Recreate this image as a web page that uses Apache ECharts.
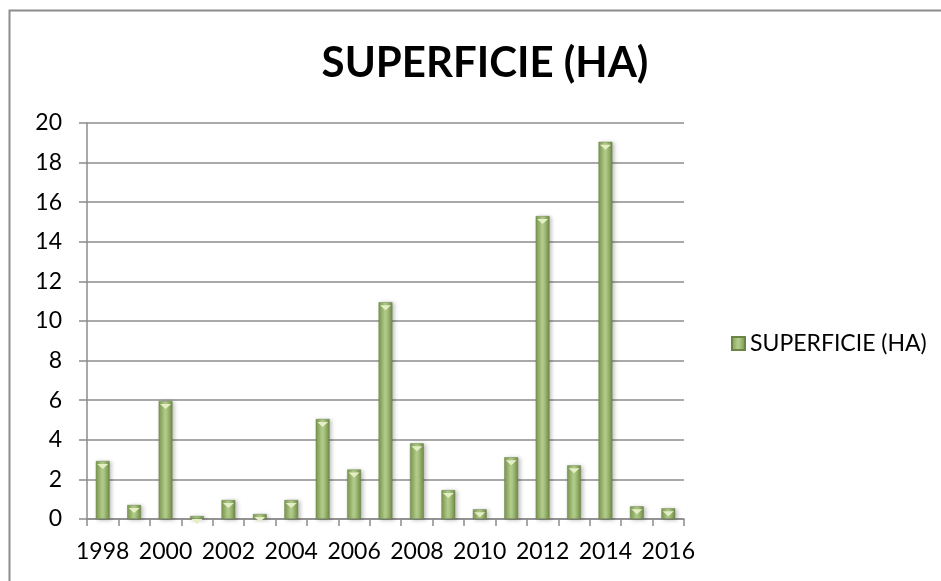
<!DOCTYPE html>
<html>
<head>
<meta charset="utf-8">
<title>SUPERFICIE (HA)</title>
<script src="https://cdn.jsdelivr.net/npm/echarts@6/dist/echarts.min.js"></script>
<style>
  html, body { margin: 0; padding: 0; background: #ffffff; }
  #chart { width: 941px; height: 581px; }
</style>
</head>
<body>
<div id="chart"></div>
<script>
  // data
  const years = ['1998', '1999', '2000', '2001', '2002', '2003', '2004', '2005', '2006', '2007',
                 '2008', '2009', '2010', '2011', '2012', '2013', '2014', '2015', '2016'];
  const superficie = [2.93, 0.71, 5.96, 0.15, 0.96, 0.25, 0.96, 5.05, 2.5, 10.95,
                      3.82, 1.46, 0.49, 3.12, 15.3, 2.71, 19.05, 0.64, 0.54];
  const yTicks = { min: 0, max: 20, interval: 2 };
  const seriesName = 'SUPERFICIE (HA)';

  // colours
  const C = {
    grid: '#8c8c8c',
    ink: '#000000',
    border: '#8c8c8c',
    bevel: '#e4efc6',
  };
  const FONT = 'Lato, "Open Sans", sans-serif';

  const barFill = new echarts.graphic.LinearGradient(0, 0, 1, 0, [
    { offset: 0, color: '#7a9850' },
    { offset: 0.45, color: '#b3cc8a' },
    { offset: 0.6, color: '#a9c480' },
    { offset: 1, color: '#6e8a46' },
  ]);

  const chart = echarts.init(document.getElementById('chart'), null, { renderer: 'canvas' });
  chart.setOption({
    backgroundColor: '#ffffff',
    animation: false,
    title: {
      text: seriesName,
      left: 480,
      top: 37,
      textAlign: 'center',
      textStyle: { fontFamily: FONT, fontSize: 42, fontWeight: 'bold', color: C.ink },
    },
    legend: {
      data: [seriesName],
      left: 726,
      top: 327,
      itemWidth: 13,
      itemHeight: 13,
      itemGap: 8,
      icon: 'rect',
      textStyle: { fontFamily: FONT, fontSize: 23, color: C.ink },
    },
    grid: { left: 87, right: 257, top: 123, bottom: 62 },
    xAxis: {
      type: 'category',
      data: years,
      boundaryGap: true,
      axisLine: { lineStyle: { color: C.grid, width: 1.5 } },
      axisTick: { show: true, length: 7, interval: 0, lineStyle: { color: C.grid, width: 1.5 } },
      axisLabel: { interval: 1, margin: 21, fontFamily: FONT, fontSize: 23, color: C.ink },
    },
    yAxis: {
      type: 'value',
      min: yTicks.min,
      max: yTicks.max,
      interval: yTicks.interval,
      axisLine: { show: true, lineStyle: { color: C.grid, width: 1.5 } },
      axisTick: { show: true, length: 8, lineStyle: { color: C.grid, width: 1.5 } },
      splitLine: { lineStyle: { color: C.grid, width: 1.5 } },
      axisLabel: { margin: 25, fontFamily: FONT, fontSize: 23, color: C.ink },
    },
    series: [{
      name: seriesName,
      type: 'bar',
      data: superficie,
      barWidth: '44%',
      barGap: '-100%',
      itemStyle: {
        color: barFill,
        borderColor: '#6a8544',
        borderWidth: 0.5,
        shadowColor: 'rgba(0,0,0,0.25)',
        shadowBlur: 4,
        shadowOffsetX: 2,
        shadowOffsetY: 1,
      },
    }, {
      // light bevel at the top of each bar
      name: seriesName,
      type: 'pictorialBar',
      data: superficie,
      symbol: 'triangle',
      symbolRotate: 180,
      symbolSize: [11, 5],
      symbolPosition: 'end',
      symbolOffset: [0, '60%'],
      barGap: '-100%',
      silent: true,
      z: 3,
      itemStyle: { color: C.bevel },
    }],
    graphic: [{
      type: 'rect',
      shape: { x: 9.5, y: 10.5, width: 1000, height: 1000 },
      style: { fill: 'none', stroke: C.border, lineWidth: 2 },
      silent: true,
    }],
  });
  window.addEventListener('resize', () => chart.resize());
</script>
</body>
</html>
